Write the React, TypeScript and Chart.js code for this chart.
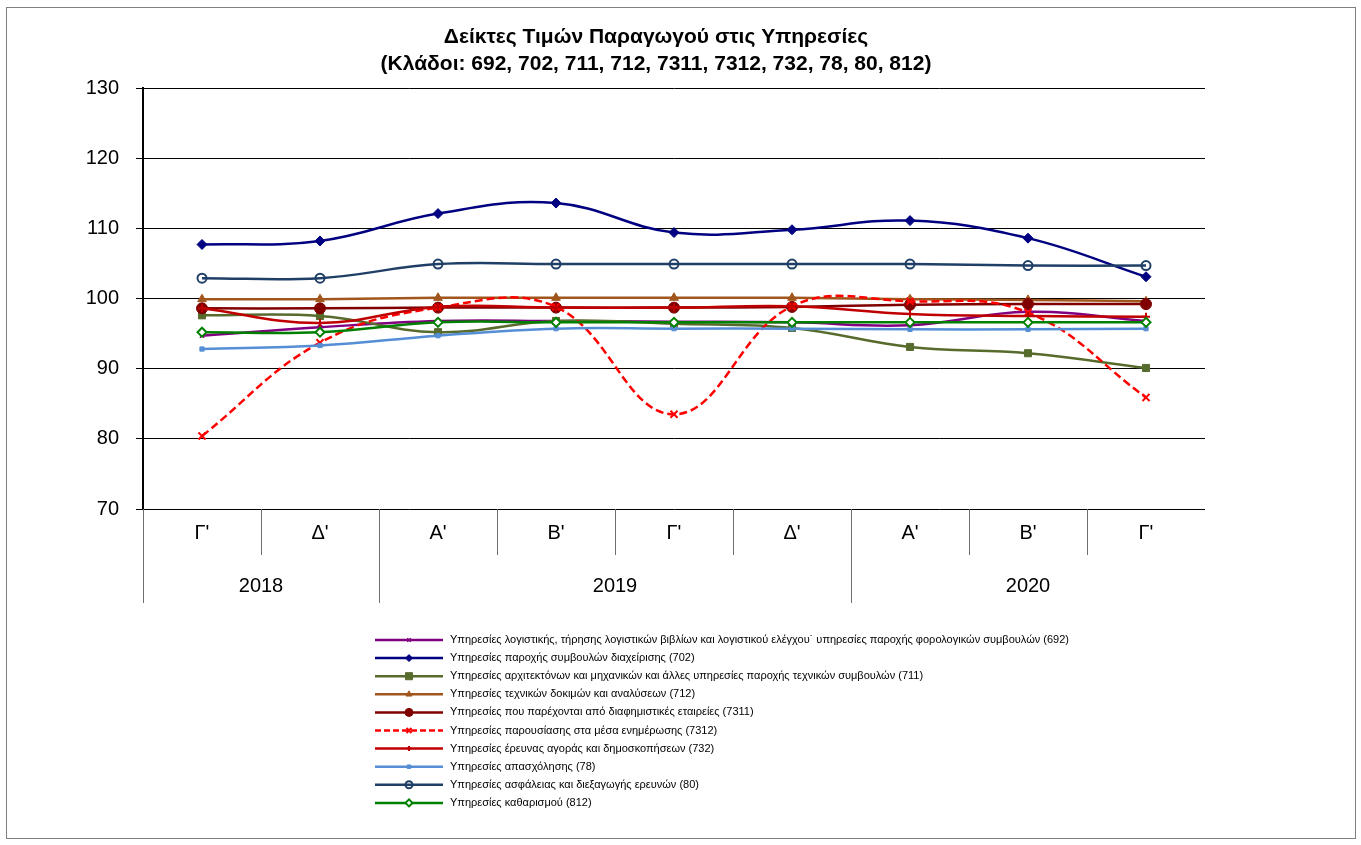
import React, { useEffect, useRef } from 'react';
import { Chart, registerables } from 'chart.js';
import { drawPoint } from 'chart.js/helpers';

Chart.register(...registerables);

const quarters = ["Γ'", "Δ'", "Α'", "Β'", "Γ'", "Δ'", "Α'", "Β'", "Γ'"];
const years = ['2018', '2019', '2020'];
const yearSpans = [2, 4, 3];

const yMin = 70;
const yMax = 130;
const yStep = 10;

const titleLines = [
  'Δείκτες Τιμών Παραγωγού στις Υπηρεσίες',
  '(Κλάδοι: 692, 702, 711, 712, 7311, 7312, 732, 78, 80, 812)',
];

const names = [
  'Υπηρεσίες λογιστικής, τήρησης λογιστικών βιβλίων και λογιστικού ελέγχου˙ υπηρεσίες παροχής φορολογικών συμβουλών (692)',
  'Υπηρεσίες παροχής συμβουλών διαχείρισης (702)',
  'Υπηρεσίες αρχιτεκτόνων και μηχανικών και άλλες υπηρεσίες παροχής τεχνικών συμβουλών (711)',
  'Υπηρεσίες τεχνικών δοκιμών και αναλύσεων (712)',
  'Υπηρεσίες που παρέχονται από διαφημιστικές εταιρείες (7311)',
  'Υπηρεσίες παρουσίασης στα μέσα ενημέρωσης (7312)',
  'Υπηρεσίες έρευνας αγοράς και δημοσκοπήσεων (732)',
  'Υπηρεσίες απασχόλησης (78)',
  'Υπηρεσίες ασφάλειας και διεξαγωγής ερευνών (80)',
  'Υπηρεσίες καθαρισμού (812)',
];

const s692 = [94.7, 95.9, 96.8, 96.8, 96.7, 96.6, 96.2, 98.1, 96.8];
const s702 = [107.7, 108.2, 112.1, 113.6, 109.4, 109.8, 111.1, 108.6, 103.1];
const s711 = [97.6, 97.5, 95.2, 96.8, 96.4, 95.8, 93.1, 92.2, 90.1];
const s712 = [99.9, 99.9, 100.1, 100.1, 100.1, 100.1, 99.9, 99.8, 99.6];
const s7311 = [98.6, 98.6, 98.7, 98.7, 98.7, 98.8, 99.1, 99.2, 99.2];
const s7312 = [80.4, 93.7, 98.7, 98.8, 83.5, 98.9, 99.6, 98.0, 85.9];
const s732 = [98.6, 96.5, 98.8, 98.7, 98.7, 98.9, 97.8, 97.5, 97.4];
const s78 = [92.8, 93.3, 94.7, 95.7, 95.7, 95.7, 95.6, 95.6, 95.7];
const s80 = [102.9, 102.9, 104.9, 104.9, 104.9, 104.9, 104.9, 104.7, 104.7];
const s812 = [95.2, 95.2, 96.6, 96.6, 96.6, 96.6, 96.6, 96.6, 96.6];

const seriesValues = [s692, s702, s711, s712, s7311, s7312, s732, s78, s80, s812];

type Style = {
  color: string;
  point: string;
  radius: number;
  fill: string;
  pbw: number;
  dash?: number[];
  lradius: number;
};

const styles: Style[] = [
  { color: '#800080', point: 'crossRot', radius: 3, fill: '#800080', pbw: 1.5, lradius: 2.5 },
  { color: '#000080', point: 'rectRot', radius: 5, fill: '#000080', pbw: 1, lradius: 3.5 },
  { color: '#576B2C', point: 'rect', radius: 5, fill: '#576B2C', pbw: 1, lradius: 5 },
  { color: '#A0561C', point: 'triangle', radius: 5, fill: '#A0561C', pbw: 1, lradius: 3.5 },
  { color: '#800000', point: 'circle', radius: 5.5, fill: '#800000', pbw: 1, lradius: 4 },
  { color: '#FF0000', point: 'crossRot', radius: 5, fill: '#FF0000', pbw: 2, dash: [8, 4], lradius: 3.5 },
  { color: '#C00000', point: 'cross', radius: 4, fill: '#C00000', pbw: 2, lradius: 2.5 },
  { color: '#558ED5', point: 'rect', radius: 3, fill: '#558ED5', pbw: 1, lradius: 2.5 },
  { color: '#1F3F66', point: 'circle', radius: 4.5, fill: 'rgba(0,0,0,0)', pbw: 2, lradius: 3.5 },
  { color: '#008000', point: 'rectRot', radius: 4.5, fill: '#FFFFFF', pbw: 2, lradius: 3.5 },
];

const FONT = '"Liberation Sans", Arial, sans-serif';

const customPlugin = {
  id: 'customDecor',
  afterDraw(chart: any) {
    const ctx = chart.ctx as CanvasRenderingContext2D;
    const xs = chart.scales.x;
    const area = chart.chartArea;
    ctx.save();

    // Title
    ctx.fillStyle = '#000';
    ctx.font = 'bold 21px ' + FONT;
    ctx.textAlign = 'center';
    ctx.textBaseline = 'middle';
    ctx.fillText(titleLines[0], 656, 37);
    ctx.fillText(titleLines[1], 656, 64);

    // Two-level category axis
    const n = quarters.length;
    const step = xs.getPixelForValue(1) - xs.getPixelForValue(0);
    const start = xs.getPixelForValue(0) - step / 2;
    const bounds: number[] = [];
    for (let i = 0; i <= n; i++) bounds.push(start + i * step);
    const yearBounds = new Set<number>();
    let acc = 0;
    yearBounds.add(0);
    yearSpans.forEach((s) => {
      acc += s;
      yearBounds.add(acc);
    });

    const bottom = area.bottom;
    ctx.strokeStyle = '#6e6e6e';
    ctx.lineWidth = 1;
    for (let i = 0; i < n; i++) {
      const x = Math.round(bounds[i]) + 0.5;
      const len = yearBounds.has(i) ? 94 : 46;
      ctx.beginPath();
      ctx.moveTo(x, bottom);
      ctx.lineTo(x, bottom + len);
      ctx.stroke();
    }

    ctx.fillStyle = '#000';
    ctx.font = '20px ' + FONT;
    for (let i = 0; i < n; i++) {
      ctx.fillText(quarters[i], xs.getPixelForValue(i), bottom + 24);
    }
    let idx = 0;
    years.forEach((yr, k) => {
      const a = bounds[idx];
      const b = bounds[idx + yearSpans[k]];
      ctx.fillText(yr, (a + b) / 2, bottom + 77);
      idx += yearSpans[k];
    });

    // Legend
    ctx.font = '11px ' + FONT;
    ctx.textAlign = 'left';
    for (let i = 0; i < names.length; i++) {
      const st = styles[i];
      const y = 640 + i * 18.1;
      ctx.strokeStyle = st.color;
      ctx.lineWidth = 2.5;
      ctx.setLineDash(st.dash ? [6, 3] : []);
      ctx.beginPath();
      ctx.moveTo(375, y);
      ctx.lineTo(443, y);
      ctx.stroke();
      ctx.setLineDash([]);
      ctx.fillStyle = st.fill;
      ctx.strokeStyle = st.color;
      ctx.lineWidth = st.pbw;
      drawPoint(ctx, { pointStyle: st.point as any, radius: st.lradius, rotation: 0, borderWidth: st.pbw }, 409, y);
      ctx.fillStyle = '#000';
      ctx.fillText(names[i], 450, y);
    }

    ctx.restore();
  },
};

export default function App() {
  const ref = useRef<HTMLCanvasElement | null>(null);
  useEffect(() => {
    if (!ref.current) return;
    const datasets = seriesValues.map((vals, i) => {
      const st = styles[i];
      return {
        label: names[i],
        data: vals,
        borderColor: st.color,
        backgroundColor: st.fill,
        borderWidth: 2.5,
        borderDash: st.dash || [],
        tension: 0.4,
        pointStyle: st.point,
        pointRadius: st.radius,
        pointBackgroundColor: st.fill,
        pointBorderColor: st.color,
        pointBorderWidth: st.pbw,
        fill: false,
        order: seriesValues.length - i,
      };
    });
    const chart = new Chart(ref.current, {
      type: 'line',
      data: { labels: quarters.map((q, i) => q + '#' + i), datasets: datasets as any },
      options: {
        responsive: false,
        animation: false,
        layout: { padding: { left: 0, top: 88, right: 156, bottom: 336 } },
        plugins: {
          legend: { display: false },
          title: { display: false },
          tooltip: { enabled: false },
        },
        scales: {
          x: {
            type: 'category',
            display: false,
            offset: true,
          },
          y: {
            min: yMin,
            max: yMax,
            ticks: {
              stepSize: yStep,
              color: '#000',
              font: { family: FONT, size: 20 },
              padding: 17,
            },
            grid: {
              color: '#000',
              lineWidth: 1,
              drawTicks: true,
              tickLength: 7,
              tickColor: '#000',
            },
            border: { display: true, color: '#000', width: 2 },
            afterFit: (s: any) => {
              s.width = 143;
            },
          },
        },
      },
      plugins: [customPlugin],
    });
    return () => chart.destroy();
  }, []);

  return (
    <div style={{ position: 'absolute', left: 0, top: 0, width: 1361, height: 845, background: '#fff' }}>
      <div
        style={{
          position: 'absolute',
          left: 6,
          top: 7,
          width: 1348,
          height: 830,
          border: '1px solid #808080',
        }}
      />
      <canvas ref={ref} width={1361} height={845} style={{ position: 'absolute', left: 0, top: 0, width: 1361, height: 845 }} />
    </div>
  );
}
